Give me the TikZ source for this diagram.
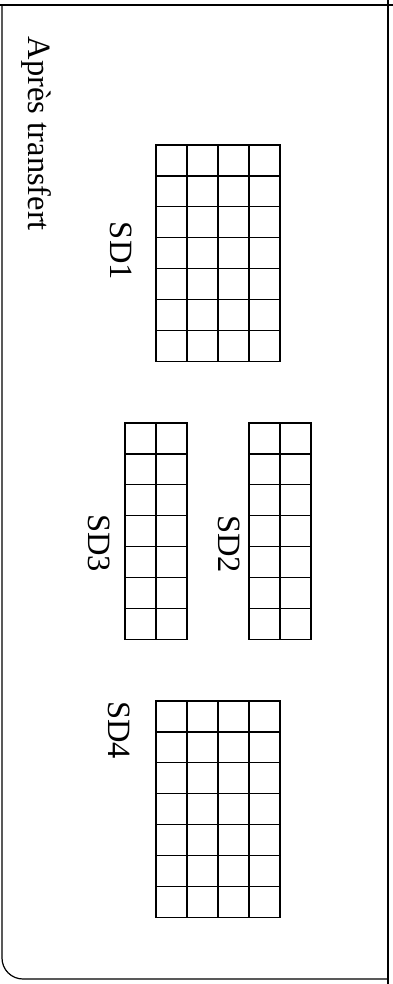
\documentclass[tikz,border=0pt]{standalone}
\usepackage{fontspec}
\setmainfont{Liberation Serif}
\tikzset{
  frameline/.style={line width=1.2pt, black},
  gridline/.style={line width=1.3pt, black, line cap=rect},
  lbl/.style={inner sep=0pt, outer sep=0pt, rotate=-90, anchor=base west, font=\fontsize{32.5}{39}\selectfont}
}
\newcommand\sdgrid[3]{% x0, y0, ncols ; 7 rows
  \foreach \i in {0,...,#3} {\draw[gridline] ({#1+\i*31},#2) -- ({#1+\i*31},{#2+7*30.9});}
  \foreach \j in {0,...,7} {\draw[gridline] (#1,{#2+\j*30.9}) -- ({#1+#3*31},{#2+\j*30.9});}
}
\begin{document}
\begin{tikzpicture}[x=1pt,y=-1pt]
\useasboundingbox (0,0) rectangle (393,984);
% frame
\coordinate (tl) at (0,5);
\coordinate (tr) at (393,5);
\coordinate (rt) at (388,0);
\coordinate (rb) at (388,984);
\coordinate (lt) at (2,5);
\coordinate (lb) at (2,979);
\coordinate (br) at (388,979);
\draw[frameline] (tl) -- (tr);
\draw[frameline] (rt) -- (rb);
\draw[frameline, rounded corners=21pt] (lt) -- (lb) -- (br);
% title
\node[lbl] (title) at (28,37) {Après transfert};
% grids
\sdgrid{156}{145}{4}
\sdgrid{249}{423}{2}
\sdgrid{125}{423}{2}
\sdgrid{156}{701}{4}
% labels
\node[lbl] (sd1) at (110,222) {SD1};
\node[lbl] (sd2) at (218,515) {SD2};
\node[lbl] (sd3) at (88,514) {SD3};
\node[lbl] (sd4) at (108,701) {SD4};
\end{tikzpicture}
\end{document}
